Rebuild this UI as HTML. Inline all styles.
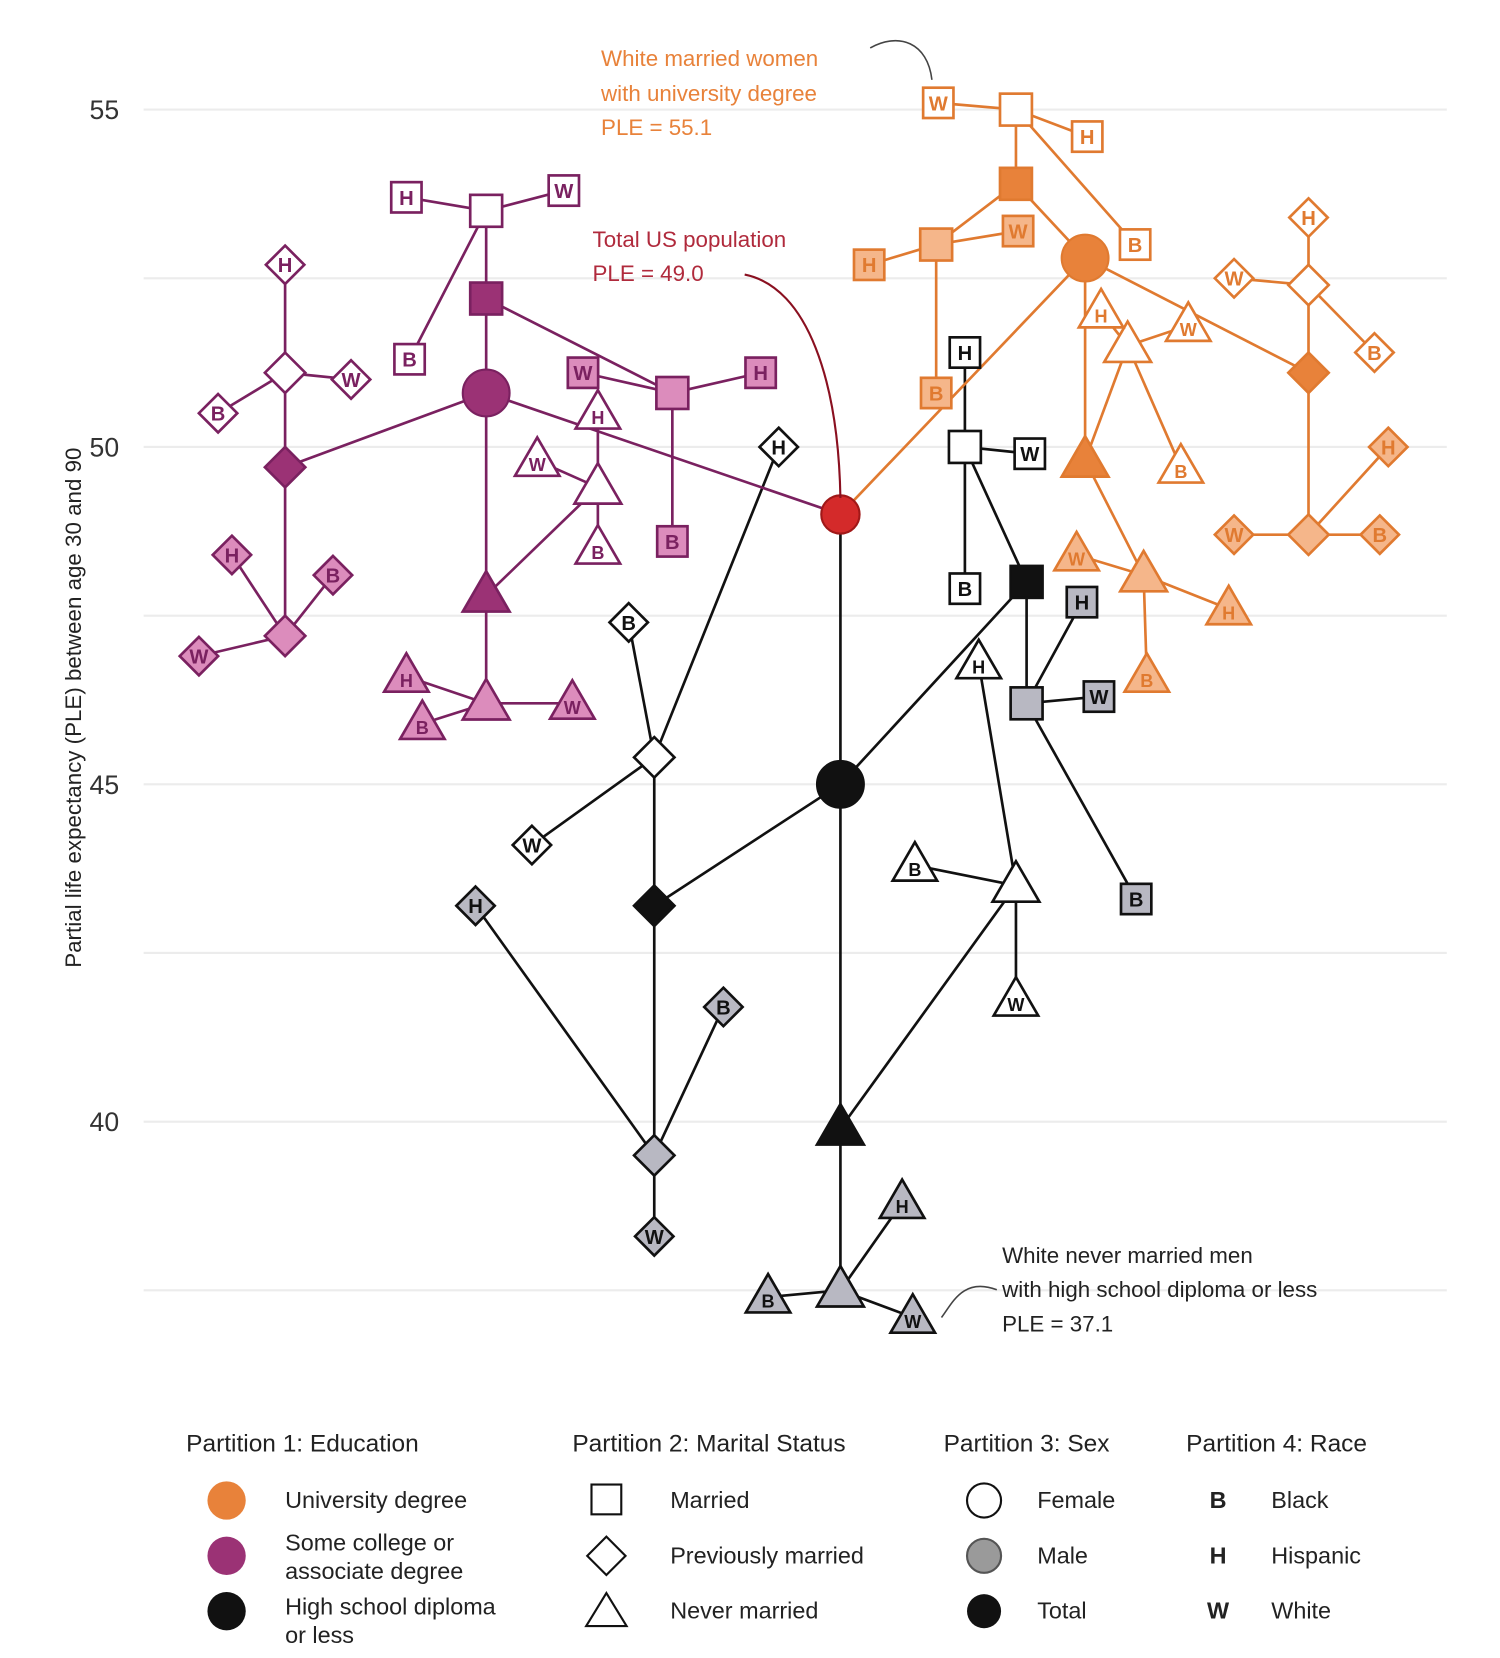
<!DOCTYPE html>
<html><head><meta charset="utf-8"><style>
html,body{margin:0;padding:0;background:#fff;}
svg{display:block;font-family:"Liberation Sans",Arial,sans-serif;}
</style></head><body>
<svg id="chart" width="1500" height="1658" viewBox="0 0 1410 1558" preserveAspectRatio="none" xmlns="http://www.w3.org/2000/svg">
<g id="grid"></g>
<g id="yaxis"></g>
<text transform="translate(76,665) rotate(-90)" text-anchor="middle" font-size="21" fill="#222">Partial life expectancy (PLE) between age 30 and 90</text>
<g id="edges"></g>
<g id="nodes"></g>
<g fill="#e8823a" font-size="21">
<text x="565" y="62">White married women</text><text x="565" y="95">with university degree</text><text x="565" y="127">PLE = 55.1</text>
<path d="M818,45 C845,30 872,40 876,75" fill="none" stroke="#444" stroke-width="1.5"/></g>
<g fill="#b02a3c" font-size="21">
<text x="557" y="232">Total US population</text><text x="557" y="264">PLE = 49.0</text>
<path d="M700,258 C760,270 788,360 790,468" fill="none" stroke="#8a1020" stroke-width="2"/></g>
<g fill="#222" font-size="21">
<text x="942" y="1187">White never married men</text><text x="942" y="1219">with high school diploma or less</text><text x="942" y="1251">PLE = 37.1</text>
<path d="M937,1212 C905,1200 895,1225 885,1238" fill="none" stroke="#444" stroke-width="1.5"/></g>
<g id="legend" font-size="22" fill="#222">
<g>
<text x="175" y="1364" font-size="23">Partition 1: Education</text>
<circle cx="213" cy="1410" r="18" fill="#e8823a"/><text x="268" y="1417">University degree</text>
<circle cx="213" cy="1462" r="18" fill="#9b3275"/><text x="268" y="1457">Some college or</text><text x="268" y="1484">associate degree</text>
<circle cx="213" cy="1514" r="18" fill="#111"/><text x="268" y="1517">High school diploma</text><text x="268" y="1544">or less</text></g>
<g stroke="#111" stroke-width="2" fill="#fff">
<text x="538" y="1364" font-size="23" fill="#222" stroke="none">Partition 2: Marital Status</text>
<rect x="556" y="1395" width="28" height="28"/><text x="630" y="1417" fill="#222" stroke="none">Married</text>
<polygon points="570,1444 588,1462 570,1480 552,1462"/><text x="630" y="1469" fill="#222" stroke="none">Previously married</text>
<polygon points="570,1497 589,1528 551,1528"/><text x="630" y="1521" fill="#222" stroke="none">Never married</text></g>
<g>
<text x="887" y="1364" font-size="23">Partition 3: Sex</text>
<circle cx="925" cy="1410" r="16" fill="#fff" stroke="#111" stroke-width="2"/><text x="975" y="1417">Female</text>
<circle cx="925" cy="1462" r="16" fill="#9a9a9a" stroke="#555" stroke-width="2"/><text x="975" y="1469">Male</text>
<circle cx="925" cy="1514" r="16" fill="#111"/><text x="975" y="1521">Total</text></g>
<g>
<text x="1115" y="1364" font-size="23">Partition 4: Race</text>
<text x="1145" y="1417" font-weight="bold" text-anchor="middle">B</text><text x="1195" y="1417">Black</text>
<text x="1145" y="1469" font-weight="bold" text-anchor="middle">H</text><text x="1195" y="1469">Hispanic</text>
<text x="1145" y="1521" font-weight="bold" text-anchor="middle">W</text><text x="1195" y="1521">White</text></g>
</g>
</svg>
<script>
const yTicks=[55,50,45,40];
const gridValues=[55,52.5,50,47.5,45,42.5,40,37.5];
// node ids: group char (R/K/P/O), shape char (s/d/t), sex char (F/M), "-" letter for race leaves
const nodeIds=["R","K","Ks","KsF","KsF-H","KsF-W","KsF-B","KsM","KsM-H","KsM-W","KsM-B","Kd","KdF","KdF-B","KdF-W","KdF-H","KdM","KdM-W","KdM-H","KdM-B","Kt","KtF","KtF-H","KtF-B","KtF-W","KtM","KtM-B","KtM-H","KtM-W",
"P","Ps","PsF","PsF-H","PsF-W","PsF-B","PsM","PsM-W","PsM-H","PsM-B","Pd","PdF","PdF-H","PdF-W","PdF-B","PdM","PdM-H","PdM-B","PdM-W","Pt","PtF","PtF-H","PtF-W","PtF-B","PtM","PtM-H","PtM-B","PtM-W",
"O","Os","OsF","OsF-W","OsF-H","OsF-B","OsM","OsM-H","OsM-W","OsM-B","Od","OdF","OdF-H","OdF-W","OdF-B","OdM","OdM-H","OdM-W","OdM-B","Ot","OtF","OtF-H","OtF-W","OtF-B","OtM","OtM-W","OtM-H","OtM-B"];
const pleValues=[49.0,45.0,48.0,50.0,51.4,49.9,47.9,46.2,47.7,46.3,43.3,43.2,45.4,47.4,44.1,50.0,39.5,38.3,43.2,41.7,39.9,43.5,46.8,43.8,41.8,37.5,37.4,38.8,37.1,
50.8,52.2,53.5,53.7,53.8,51.3,50.8,51.1,51.1,48.6,49.7,51.1,52.7,51.0,50.5,47.2,48.4,48.1,46.9,47.8,49.4,50.5,49.8,48.5,46.2,46.6,45.9,46.2,
52.8,53.9,55.0,55.1,54.6,53.0,53.0,52.7,53.2,50.8,51.1,52.4,53.4,52.5,51.4,48.7,50.0,48.7,48.7,49.8,51.5,52.0,51.8,49.7,48.1,48.4,47.6,46.6];
// horizontal layout positions (not data)
const xLayout=[790,790,965,907,907,968,907,965,1017,1033,1068,615,615,591,500,732,615,615,447,680,790,955,920,860,955,790,722,848,858,
457,457,457,382,530,385,632,548,715,632,268,268,268,330,205,268,218,313,187,457,562,562,505,562,457,382,397,538,
1020,955,955,882,1022,1067,880,817,957,880,1230,1230,1230,1160,1292,1230,1305,1160,1297,1020,1060,1035,1117,1110,1075,1012,1155,1078];

const NS="http://www.w3.org/2000/svg";
function y(v){return 420-(v-50)*63.4;}
function mk(tag,attrs,parent){const e=document.createElementNS(NS,tag);for(const k in attrs)e.setAttribute(k,attrs[k]);parent.appendChild(e);return e;}
const G=document.getElementById('grid'),YA=document.getElementById('yaxis'),E=document.getElementById('edges'),N=document.getElementById('nodes');
gridValues.forEach(v=>{const l=mk('line',{x1:135,x2:1360,y1:y(v),y2:y(v),stroke:'#ececec','stroke-width':2},G);

});
yTicks.forEach(v=>{const t=mk('text',{x:112,y:y(v)+9,'text-anchor':'end','font-size':25,fill:'#333'},YA);t.textContent=v;

});
const col={R:['#d42a2a','#d42a2a','#a01818'],K:['#111','#b8b8c2','#111'],P:['#9b3275','#dc8cbc','#7a2160'],O:['#e8823a','#f5b68a','#e07a30']};
function parentOf(id){if(id==='R')return null;if(id.includes('-'))return id.split('-')[0];if(id.length===1)return 'R';return id.slice(0,-1);}
const idx={};nodeIds.forEach((id,i)=>idx[id]=i);
nodeIds.forEach((id,i)=>{const p=parentOf(id);if(p===null)return;const j=idx[p];
const g=id[0];const stroke=col[g][2];
const l=mk('line',{x1:xLayout[j],y1:y(pleValues[j]),x2:xLayout[i],y2:y(pleValues[i]),stroke:stroke,'stroke-width':2.5},E);

});
nodeIds.forEach((id,i)=>{const cx=xLayout[i],cy=y(pleValues[i]);const g=id[0];const c=col[g];
const base=id.split('-')[0];const leaf=id.includes('-');const shape=base.length===1?'c':base[1];const sex=base.length===3?base[2]:'T';
let fill=sex==='F'?'#fff':sex==='M'?c[1]:c[0];
const stroke=c[2];
const grp=mk('g',{},N);


const sc=leaf?0.95:1;let ty=cy+7;
if(shape==='c'){mk('circle',{cx,cy,r:id==='R'?18:22,fill,stroke:stroke,'stroke-width':2},grp);}
else if(shape==='s'){const s=30*sc;mk('rect',{x:cx-s/2,y:cy-s/2,width:s,height:s,fill,stroke,'stroke-width':2.5},grp);}
else if(shape==='d'){const r=19*sc;mk('polygon',{points:`${cx},${cy-r} ${cx+r},${cy} ${cx},${cy+r} ${cx-r},${cy}`,fill,stroke,'stroke-width':2.5},grp);}
else{const w=44*sc,h=38*sc;mk('polygon',{points:`${cx},${cy-h*0.6} ${cx+w/2},${cy+h*0.4} ${cx-w/2},${cy+h*0.4}`,fill,stroke,'stroke-width':2.5},grp);ty=cy+10;}
if(leaf){const t=mk('text',{x:cx,y:ty,'text-anchor':'middle','font-size':shape==='t'?17:19,'font-weight':'bold',fill:stroke},grp);t.textContent=id.split('-')[1];}
});
</script>
</body></html>
